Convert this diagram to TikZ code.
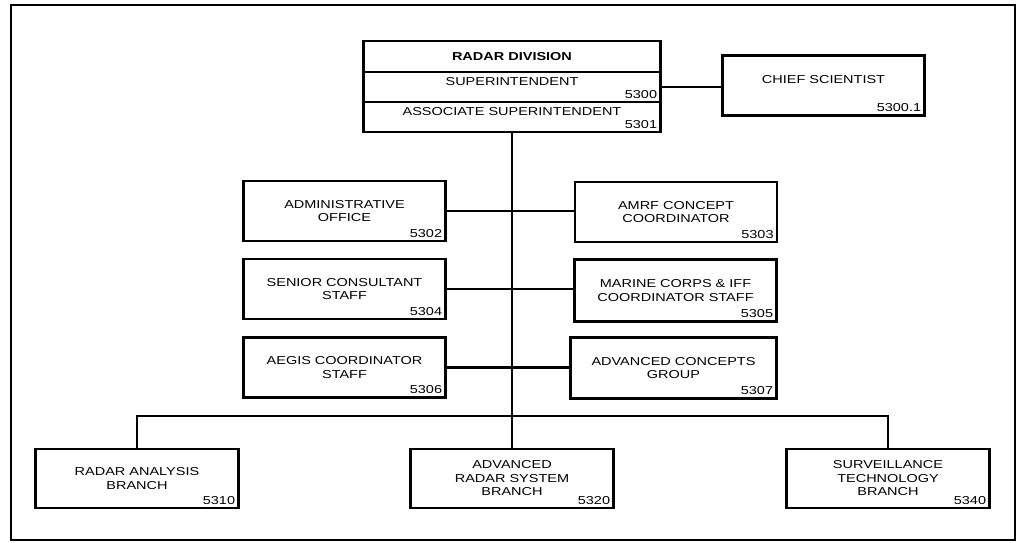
\documentclass[tikz,border=0pt]{standalone}
\usepackage{fontspec}
\setmainfont{Liberation Sans}[FakeStretch=1.26]
\usetikzlibrary{positioning}

\begin{document}
\begin{tikzpicture}[x=1pt, y=-1pt,
    font=\fontsize{11.5}{13.5}\selectfont,
    unit/.style={draw, line width=2.6pt, align=center, inner sep=2pt,
        minimum width=202pt, minimum height=60pt},
    row/.style={draw, line width=2.6pt, inner sep=0pt, minimum width=297pt},
    rowtext/.style={anchor=north, inner sep=0pt, yshift=-6.5pt},
    num/.style={anchor=south east, inner sep=0pt, xshift=-4.5pt, yshift=4.5pt},
    link/.style={line width=2.2pt}
]
    \useasboundingbox (0,0) rectangle (1018,542);
    \draw[line width=1.8pt] (11,5) rectangle (1015,540);

    % division head
    \node[row, minimum height=31pt] (title) at (512,56.5) {\textbf{RADAR DIVISION}};
    \node[row, minimum height=30pt, label={[rowtext]north:SUPERINTENDENT},
        label={[num]south east:5300}] (super) at (512,87) {};
    \node[row, minimum height=30pt, label={[rowtext]north:ASSOCIATE SUPERINTENDENT},
        label={[num]south east:5301}] (assoc) at (512,117) {};
    \node[unit, minimum height=60pt, text depth=13pt,
        label={[num]south east:5300.1}] (chief) at (823.5,85.5) {CHIEF SCIENTIST};

    % staff offices
    \node[unit, label={[num]south east:5302}] (admin) at (344.5,211) {ADMINISTRATIVE\\OFFICE};
    \node[unit, label={[num]south east:5303}] (amrf) at (676,212) {AMRF CONCEPT\\COORDINATOR};
    \node[unit, label={[num]south east:5304}] (senior) at (344.5,289) {SENIOR CONSULTANT\\STAFF};
    \node[unit, minimum height=62pt, label={[num]south east:5305}] (marine) at (675.5,290.5) {MARINE CORPS \& IFF\\COORDINATOR STAFF};
    \node[unit, label={[num]south east:5306}] (aegis) at (344.5,367.5) {AEGIS COORDINATOR\\STAFF};
    \node[unit, minimum width=206pt, minimum height=61pt, label={[num]south east:5307}] (adcg) at (673.5,368) {ADVANCED CONCEPTS\\GROUP};

    % branches
    \node[unit, minimum width=203pt, minimum height=59pt, label={[num]south east:5310}] (rab) at (137,478.5) {RADAR ANALYSIS\\BRANCH};
    \node[unit, minimum width=203pt, minimum height=59pt, label={[num]south east:5320}] (arsb) at (512,478.5) {ADVANCED\\RADAR SYSTEM\\BRANCH};
    \node[unit, minimum width=203pt, minimum height=59pt, label={[num]south east:5340}] (stb) at (888,478.5) {SURVEILLANCE\\TECHNOLOGY\\BRANCH};

    \coordinate (bus) at (512,416);

    \draw[link]
    (super.east) edge (super.east -| chief.west)
    (assoc.south) edge (arsb.north)
    (admin.east) edge (admin.east -| amrf.west)
    (senior.east) edge (senior.east -| marine.west)
    (aegis.east) edge (aegis.east -| adcg.west);
    \draw[link] (rab.north) |- (bus) -| (stb.north);
\end{tikzpicture}
\end{document}
